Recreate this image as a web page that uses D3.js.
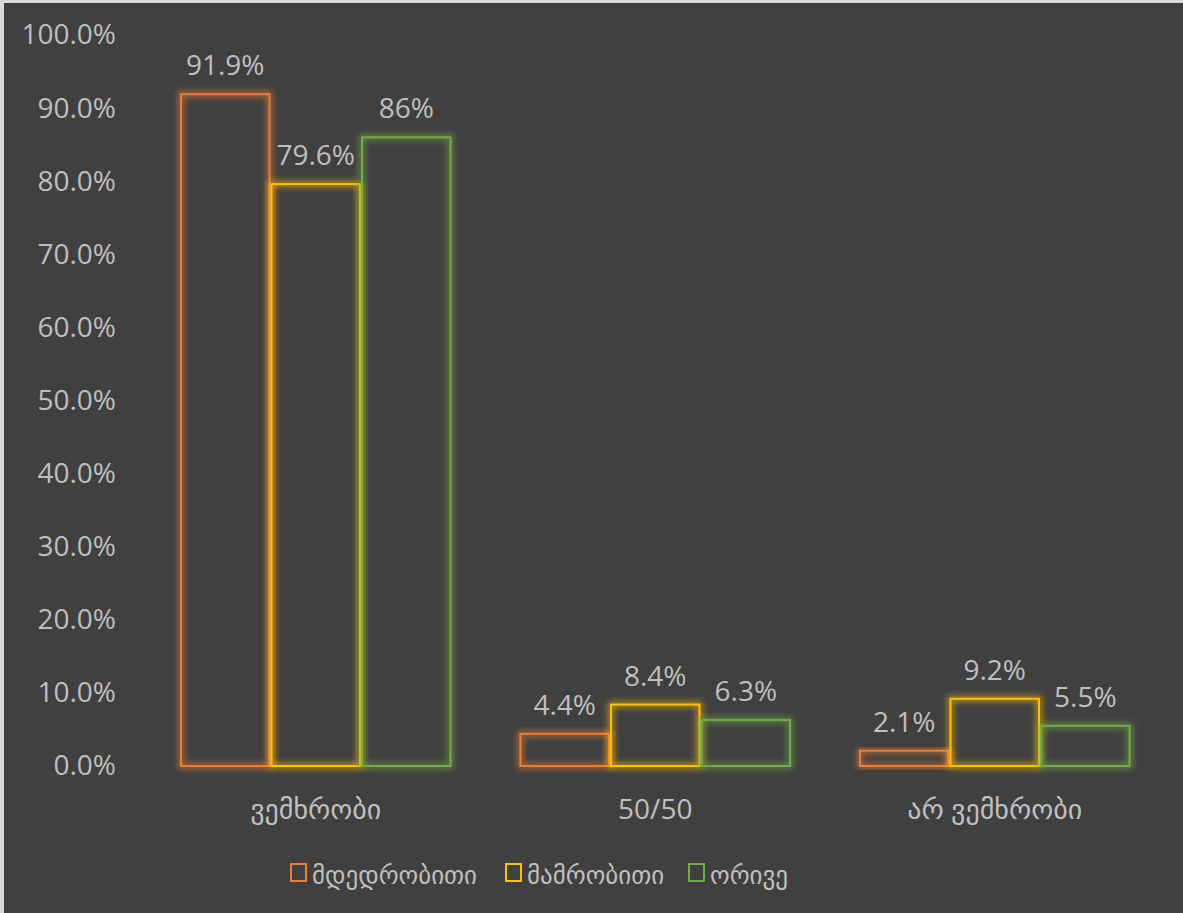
<!DOCTYPE html>
<html>
<head>
<meta charset="utf-8">
<script src="https://cdn.jsdelivr.net/npm/d3@7"></script>
<style>
  body { margin: 0; background: #d9d9d9; }
  text { font-family: "Open Sans", "DejaVu Sans", sans-serif; fill: #bfbfbf; }
</style>
</head>
<body>
<svg></svg>
<script>
// DATA
let categories = ["ვემხრობი", "50/50", "არ ვემხრობი"];
let seriesNames = ["მდედრობითი", "მამრობითი", "ორივე"];
let femaleValues = [91.9, 4.4, 2.1];
let maleValues = [79.6, 8.4, 9.2];
let bothValues = [86, 6.3, 5.5];
let labelTexts = [["91.9%", "4.4%", "2.1%"], ["79.6%", "8.4%", "9.2%"], ["86%", "6.3%", "5.5%"]];
let yTicks = [0, 10, 20, 30, 40, 50, 60, 70, 80, 90, 100];
let colors = ["#ED7D31", "#FFC000", "#70AD47"];

// PAGE SETUP
let W = 1183, H = 913;
let margin = {top: 35, left: 146, right: 18.5, bottom: 147};
let width = W - margin.left - margin.right;
let height = H - margin.top - margin.bottom;

let root = d3.select("svg").attr("width", W).attr("height", H);
root.append("rect").attr("x", 4).attr("y", 3).attr("width", W - 4).attr("height", H - 3).attr("fill", "#404040");

// glow filters (soft halo around the bar outlines)
let defs = root.append("defs");
colors.forEach(function(c, i){
  let f = defs.append("filter").attr("id", "glow" + i)
    .attr("x", "-20%").attr("y", "-20%").attr("width", "140%").attr("height", "140%");
  f.append("feMorphology").attr("in", "SourceGraphic").attr("operator", "dilate").attr("radius", 2).attr("result", "d");
  f.append("feGaussianBlur").attr("in", "d").attr("stdDeviation", 3).attr("result", "b");
  f.append("feComponentTransfer").attr("in", "b").attr("result", "b2")
    .append("feFuncA").attr("type", "linear").attr("slope", 0.6);
  let m = f.append("feMerge");
  m.append("feMergeNode").attr("in", "b2");
  m.append("feMergeNode").attr("in", "SourceGraphic");
});

let svg = root.append("g").attr("transform", `translate(${margin.left},${margin.top})`);

// SCALES
let x0 = d3.scaleBand().domain(categories).range([0, width]).paddingInner(0.2).paddingOuter(0.1);
let x1 = d3.scaleBand().domain(seriesNames).range([0, x0.bandwidth()]);
let y = d3.scaleLinear().domain([0, 100]).range([height, 0]);

// Y AXIS
let yAxis = svg.append("g").call(d3.axisLeft(y).tickValues(yTicks).tickFormat(d => d.toFixed(1) + "%").tickSize(0).tickPadding(30));
yAxis.select(".domain").remove();
yAxis.selectAll("text").style("font-size", "28px").attr("fill", "#bfbfbf");

// X AXIS
let xAxis = svg.append("g").attr("transform", `translate(0,${height})`)
  .call(d3.axisBottom(x0).tickSize(0));
xAxis.select(".domain").remove();
xAxis.selectAll("text").style("font-size", "28px").attr("fill", "#bfbfbf")
  .attr("y", 53).attr("dy", 0);

// BARS
let allSeries = [femaleValues, maleValues, bothValues];
allSeries.forEach(function(vals, si){
  let g = svg.append("g");
  g.selectAll("rect").data(vals).enter().append("rect")
    .attr("x", (d, i) => x0(categories[i]) + x1(seriesNames[si]) + 1)
    .attr("y", d => y(d))
    .attr("width", x1.bandwidth() - 2)
    .attr("height", d => height - y(d))
    .attr("fill", "none")
    .attr("stroke", colors[si])
    .attr("stroke-width", 2)
    .attr("filter", `url(#glow${si})`);
  g.selectAll("text").data(vals).enter().append("text")
    .attr("x", (d, i) => x0(categories[i]) + x1(seriesNames[si]) + x1.bandwidth() / 2)
    .attr("y", d => y(d) - 19)
    .attr("text-anchor", "middle")
    .style("font-size", "28px")
    .text((d, i) => labelTexts[si][i]);
});

// LEGEND
let legendX = [291, 506, 689];
let legend = root.append("g");
seriesNames.forEach(function(name, i){
  legend.append("rect")
    .attr("x", legendX[i]).attr("y", 864)
    .attr("width", 15).attr("height", 17)
    .attr("fill", "none").attr("stroke", colors[i]).attr("stroke-width", 2);
  legend.append("text")
    .attr("x", legendX[i] + 21).attr("y", 884)
    .style("font-size", "25px")
    .text(name);
});
</script>
</body>
</html>
